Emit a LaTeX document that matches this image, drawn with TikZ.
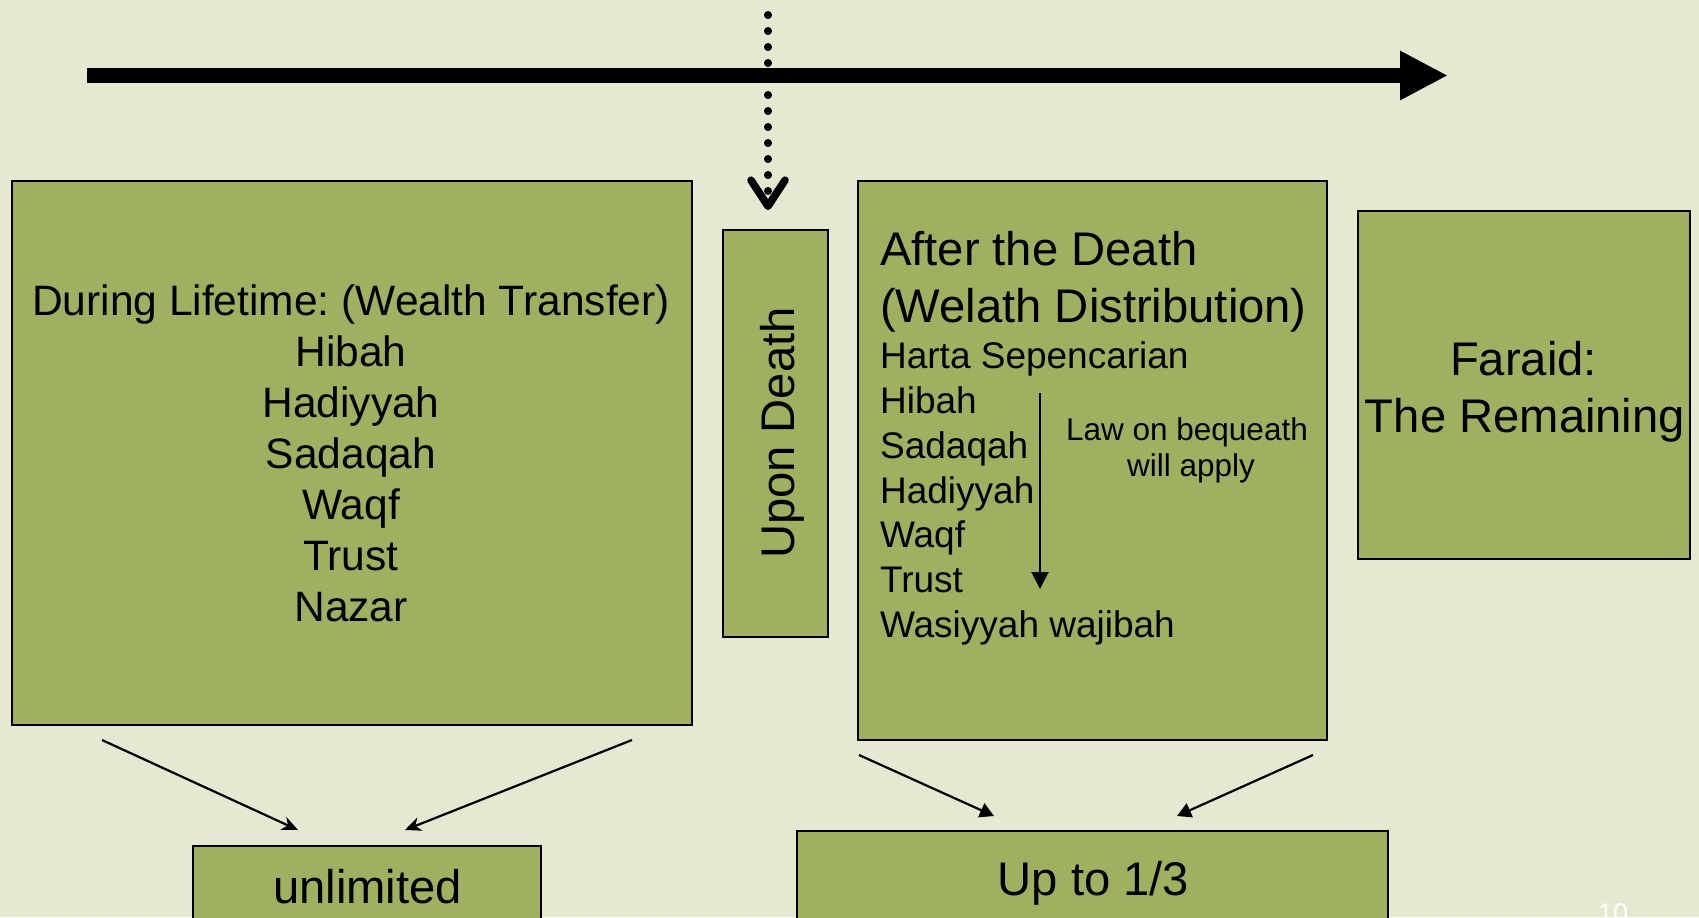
\documentclass[tikz,border=0pt]{standalone}
\usepackage{fontspec}
\setmainfont{Liberation Sans}
\usetikzlibrary{arrows.meta}
\frenchspacing

\definecolor{slidebg}{HTML}{E6E8D1}
\definecolor{boxgreen}{HTML}{9FB060}

\tikzset{
  greenbox/.style={draw=black, line width=1pt, fill=boxgreen, inner sep=0pt, outer sep=0pt},
  lifetxt/.style={font=\fontsize{21.25pt}{25.5pt}\selectfont, inner sep=0pt},
  bigtxt/.style={font=\fontsize{23.6pt}{28.5pt}\selectfont, inner sep=0pt},
  listtxt/.style={font=\fontsize{18.5pt}{22.4pt}\selectfont, inner sep=0pt},
  lawtxt/.style={font=\fontsize{15.75pt}{18.4pt}\selectfont, inner sep=0pt},
  timeline/.style={line width=7.5pt, -{Triangle[length=24pt, width=23pt]}},
  dotarrow/.style={line width=4pt, line cap=round, dash pattern=on 0pt off 8pt,
    -{Straight Barb[length=13pt, width=17pt, line width=3.8pt, round]}},
  thinarrow/.style={line width=1.1pt, -{Stealth[length=8pt, width=7pt, inset=2.5pt]}},
  triarrow/.style={line width=1.1pt, -{Triangle[length=7pt, width=7.5pt]}}
}

\begin{document}
\begin{tikzpicture}[x=0.5pt,y=-0.5pt]
\fill[slidebg] (0,0) rectangle (1699,917);
\useasboundingbox (0,0) rectangle (1699,917);

% time line and the moment of death
\coordinate (dtop) at (768,15);
\coordinate (dbot) at (768,210);
\draw[dotarrow] (dtop) -- (dbot);
\coordinate (tstart) at (87,75.5);
\coordinate (tend) at (1448,75.5);
\draw[timeline] (tstart) -- (tend);

% boxes
\node[greenbox, minimum width=340pt, minimum height=272pt] (life) at (352,453) {};
\node[greenbox, minimum width=52.5pt, minimum height=203.5pt] (upon) at (775.5,433.5) {};
\node[greenbox, minimum width=234.5pt, minimum height=279.5pt] (after) at (1092.5,460.5) {};
\node[greenbox, minimum width=166pt, minimum height=174pt] (faraid) at (1524,385) {};
\node[greenbox, minimum width=174pt, minimum height=40pt] (unlim) at (367,886) {};
\node[greenbox, minimum width=295.5pt, minimum height=47pt] (third) at (1092.5,878) {};

% texts
\foreach \txt [count=\i from 0] in {During Lifetime: (Wealth Transfer),Hibah,Hadiyyah,Sadaqah,Waqf,Trust,Nazar}
  \node[lifetxt, anchor=base] (life\i) at (351,315+51.1*\i) {\txt};

\node[bigtxt, anchor=base, rotate=90] (upontxt) at (794,433) {Upon Death};

\node[bigtxt, anchor=base west] (aftert1) at (879.7,265) {After the Death};
\node[bigtxt, anchor=base west] (aftert2) at (879.7,322) {(Welath Distribution)};
\foreach \txt [count=\i from 0] in {Harta Sepencarian,Hibah,Sadaqah,Hadiyyah,Waqf,Trust,Wasiyyah wajibah}
  \node[listtxt, anchor=base west] (aft\i) at (879.7,368.3+44.9*\i) {\txt};

\coordinate (lawtop) at (1040,393);
\coordinate (lawend) at (1040,589);
\draw[line width=1pt, -{Triangle[length=8.5pt, width=8.5pt]}] (lawtop) -- (lawend);
\node[lawtxt, anchor=base] (law1) at (1187,440) {Law on bequeath};
\node[lawtxt, anchor=base] (law2) at (1191,476.7) {will apply};

\node[bigtxt, anchor=base] (far1) at (1523.5,375) {Faraid:};
\node[bigtxt, anchor=base] (far2) at (1525,432.7) {The Remaining};

\node[bigtxt, anchor=base] (unlimtxt) at (367.5,903) {unlimited};
\node[bigtxt, anchor=base] (thirdtxt) at (1093.5,895) {Up to 1/3};

% arrows to the limits
\coordinate (l1s) at (102,740);
\coordinate (l1e) at (298,830);
\coordinate (l2s) at (632,740);
\coordinate (l2e) at (405,830);
\coordinate (r1s) at (859,755);
\coordinate (r1e) at (994,816);
\coordinate (r2s) at (1313,755);
\coordinate (r2e) at (1177,816);
\draw[thinarrow] (l1s) -- (l1e);
\draw[thinarrow] (l2s) -- (l2e);
\draw[triarrow] (r1s) -- (r1e);
\draw[triarrow] (r2s) -- (r2e);

\node[white, font=\fontsize{13.5pt}{16pt}\selectfont, inner sep=0pt, anchor=base] (pagenum) at (1613,922) {10};
\end{tikzpicture}
\end{document}
